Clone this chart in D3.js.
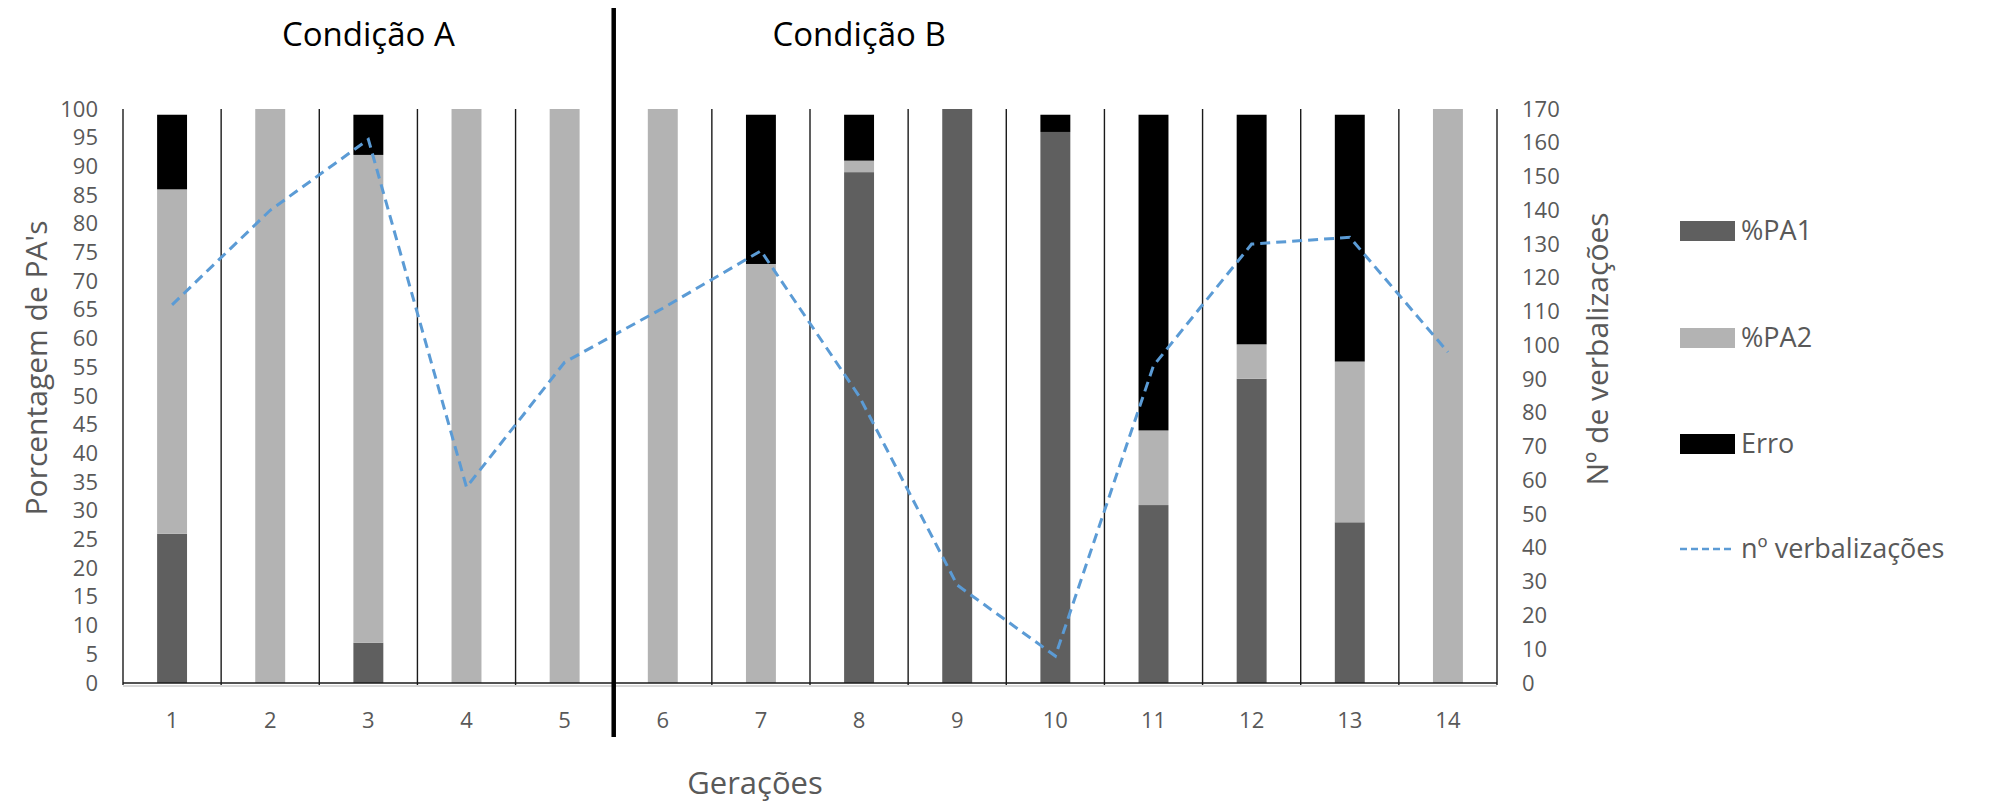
<!DOCTYPE html>
<html>
<head>
<meta charset="utf-8">
<script src="https://cdn.jsdelivr.net/npm/d3@7"></script>
<style>
  html, body { margin: 0; padding: 0; background: #fff; }
  svg { display: block; font-family: "Open Sans", "Noto Sans", sans-serif; }
</style>
</head>
<body>
<svg id="chart" width="1991" height="803"></svg>
<script>
// Gerações (categorias do eixo X)
const geracoes = ["1","2","3","4","5","6","7","8","9","10","11","12","13","14"];
// Porcentagens empilhadas por geração
const pa1  = [26, 0,  7,  0,   0,   0,   0,  89, 100, 96, 31, 53, 28, 0];
const pa2  = [60, 100, 85, 100, 100, 100, 73, 2,  0,   0,  13, 6,  28, 100];
const erro = [13, 0,  7,  0,   0,   0,   26, 8,  0,   3,  55, 40, 43, 0];
// Número de verbalizações (eixo secundário)
const verbalizacoes = [112, 140, 161, 58, 95, 111, 128, 85, 29, 8, 94, 130, 132, 98];

const ticksEsq = d3.range(0, 101, 5);
const ticksDir = d3.range(0, 171, 10);

const series = [
  { key: "pa1",  label: "%PA1", color: "#5f5f5f" },
  { key: "pa2",  label: "%PA2", color: "#b3b3b3" },
  { key: "erro", label: "Erro", color: "#000000" }
];
const condicoes = [
  { label: "Condição A", at: "3" },
  { label: "Condição B", at: "8" }
];
const divisao = "6"; // primeira geração da Condição B

const svg = d3.select("#chart");
const plotLeft = 123, plotRight = 1497, plotTop = 109, plotBottom = 683;
const textGray = "#595959";

const x = d3.scaleBand().domain(geracoes).range([plotLeft, plotRight]).padding(0);
const yL = d3.scaleLinear().domain([0, 100]).range([plotBottom, plotTop]);
const yR = d3.scaleLinear().domain([0, 170]).range([plotBottom, plotTop]);
const barW = x.bandwidth() * 0.305;
const cx = g => x(g) + x.bandwidth() / 2;

// Dados empilhados
const rows = geracoes.map((g, i) => ({ g, pa1: pa1[i], pa2: pa2[i], erro: erro[i] }));
const stacked = d3.stack().keys(series.map(s => s.key))(rows);

// Barras
svg.append("g").selectAll("g")
  .data(stacked)
  .join("g")
  .attr("fill", (d, i) => series[i].color)
  .selectAll("rect")
  .data(d => d)
  .join("rect")
  .attr("x", d => cx(d.data.g) - barW / 2)
  .attr("width", barW)
  .attr("y", d => yL(d[1]))
  .attr("height", d => Math.max(0, yL(d[0]) - yL(d[1])));

// Linhas verticais entre gerações e bordas do gráfico
const bordas = geracoes.map(g => x(g)).concat([plotRight]);
svg.append("g").selectAll("line")
  .data(bordas)
  .join("line")
  .attr("x1", d => d).attr("x2", d => d)
  .attr("y1", plotTop).attr("y2", plotBottom + 2)
  .attr("stroke", "#1a1a1a")
  .attr("stroke-width", 1.4);

// Eixo horizontal
svg.append("line")
  .attr("x1", plotLeft).attr("x2", plotRight)
  .attr("y1", plotBottom + 3).attr("y2", plotBottom + 3)
  .attr("stroke", "#d9d9d9").attr("stroke-width", 2);
svg.append("line")
  .attr("x1", plotLeft).attr("x2", plotRight)
  .attr("y1", plotBottom).attr("y2", plotBottom)
  .attr("stroke", "#1a1a1a").attr("stroke-width", 1.6);

// Linha de verbalizações
const linha = d3.line()
  .x((d, i) => cx(geracoes[i]))
  .y(d => yR(d));
svg.append("path")
  .datum(verbalizacoes)
  .attr("d", linha)
  .attr("fill", "none")
  .attr("stroke", "#5b9bd5")
  .attr("stroke-width", 3)
  .attr("stroke-dasharray", "10,6");

// Separador entre condições
svg.append("line")
  .attr("x1", x(divisao)).attr("x2", x(divisao))
  .attr("y1", 8).attr("y2", 737)
  .attr("stroke", "#000").attr("stroke-width", 4.5);

// Eixos
function estilo(g, size) {
  g.select(".domain").remove();
  g.selectAll("text").attr("fill", textGray).style("font-size", size + "px");
}
svg.append("g")
  .attr("transform", `translate(${plotLeft},0)`)
  .call(d3.axisLeft(yL).tickValues(ticksEsq).tickSize(0).tickPadding(25))
  .call(g => estilo(g, 22));
svg.append("g")
  .attr("transform", `translate(${plotRight},0)`)
  .call(d3.axisRight(yR).tickValues(ticksDir).tickSize(0).tickPadding(25))
  .call(g => estilo(g, 22));
svg.append("g")
  .attr("transform", `translate(0,${plotBottom})`)
  .call(d3.axisBottom(x).tickSize(0).tickPadding(29))
  .call(g => estilo(g, 22));
svg.selectAll("g.tick text").style("font-family", "'Open Sans', sans-serif");

// Títulos dos eixos
svg.append("text")
  .attr("transform", "translate(47,368) rotate(-90)")
  .attr("text-anchor", "middle")
  .attr("fill", textGray)
  .style("font-size", "30px")
  .text("Porcentagem de PA's");
svg.append("text")
  .attr("transform", "translate(1608,349) rotate(-90)")
  .attr("text-anchor", "middle")
  .attr("fill", textGray)
  .style("font-size", "30px")
  .text("Nº de verbalizações");
svg.append("text")
  .attr("x", 755).attr("y", 794)
  .attr("text-anchor", "middle")
  .attr("fill", textGray)
  .style("font-size", "31px")
  .text("Gerações");

// Rótulos das condições
svg.append("g").selectAll("text")
  .data(condicoes)
  .join("text")
  .attr("x", d => cx(d.at))
  .attr("y", 46)
  .attr("text-anchor", "middle")
  .attr("fill", "#000")
  .style("font-size", "33px")
  .text(d => d.label);

// Legenda
const legY = [231, 338, 444, 549];
const leg = svg.append("g");
series.forEach((s, i) => {
  leg.append("rect")
    .attr("x", 1680).attr("y", legY[i] - 10)
    .attr("width", 55).attr("height", 20)
    .attr("fill", s.color);
  leg.append("text")
    .attr("x", 1741).attr("y", legY[i]).attr("dy", "0.35em")
    .attr("fill", textGray).style("font-size", "27px")
    .text(s.label);
});
leg.append("line")
  .attr("x1", 1680).attr("x2", 1735)
  .attr("y1", legY[3]).attr("y2", legY[3])
  .attr("stroke", "#5b9bd5").attr("stroke-width", 2.5)
  .attr("stroke-dasharray", "7,4");
leg.append("text")
  .attr("x", 1741).attr("y", legY[3]).attr("dy", "0.35em")
  .attr("fill", textGray).style("font-size", "27px")
  .text("nº verbalizações");
</script>
</body>
</html>
